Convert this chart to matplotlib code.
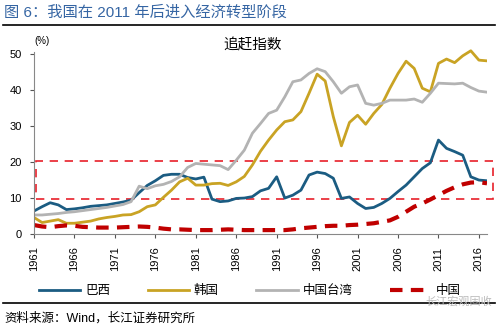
import matplotlib.pyplot as plt
from matplotlib.lines import Line2D
from matplotlib.patches import Rectangle

plt.rcParams['font.family'] = ['Liberation Sans', 'Noto Sans CJK SC']

years = list(range(1961, 2018))
tick_years = list(range(1961, 2017, 5))

brazil = [6.4, 7.6, 8.7, 8.1, 6.8, 7.0, 7.3, 7.7, 7.9, 8.1,
          8.5, 8.9, 9.4, 11.5, 13.5, 14.8, 16.3, 16.6, 16.6, 15.7,
          15.3, 15.8, 9.7, 9.0, 9.2, 9.9, 10.0, 10.4, 12.0, 12.7,
          15.9, 10.0, 10.8, 12.2, 16.4, 17.2, 16.8, 15.5, 9.9, 10.3,
          8.5, 7.1, 7.4, 8.5, 9.9, 11.8, 13.6, 15.9, 18.2, 19.8,
          26.1, 23.8, 22.9, 21.9, 15.9, 15.0, 14.8]
korea = [4.6, 3.2, 3.6, 4.0, 3.0, 3.0, 3.3, 3.6, 4.2, 4.6,
         4.9, 5.3, 5.4, 6.2, 7.6, 8.1, 10.2, 12.2, 14.5, 15.5,
         13.6, 13.6, 14.0, 14.1, 13.5, 14.5, 16.0, 19.2, 23.0, 26.1,
         28.9, 31.2, 31.7, 34.0, 39.1, 44.4, 42.5, 32.6, 24.5, 31.0,
         33.0, 30.5, 33.5, 36.0, 40.5, 44.6, 48.0, 46.0, 40.5, 39.5,
         47.4, 48.6, 47.6, 49.5, 50.9, 48.3, 48.1]
taiwan = [5.3, 5.3, 5.5, 5.7, 6.0, 6.2, 6.5, 6.8, 7.1, 7.4,
          7.8, 8.2, 9.0, 13.3, 12.6, 13.4, 13.8, 14.6, 15.9, 18.5,
          19.6, 19.4, 19.2, 19.0, 17.9, 20.5, 23.3, 28.0, 30.7, 33.5,
          34.4, 38.1, 42.3, 42.8, 44.6, 45.9, 45.1, 42.3, 39.1, 40.9,
          41.4, 36.3, 35.8, 36.3, 37.2, 37.2, 37.2, 37.5, 36.6, 39.1,
          41.9, 41.8, 41.7, 41.9, 40.7, 39.7, 39.4]
china = [2.5, 2.1, 1.9, 2.2, 2.4, 2.3, 2.0, 1.9, 1.8, 1.8,
         1.8, 1.9, 2.0, 2.1, 2.0, 1.8, 1.5, 1.3, 1.3, 1.2,
         1.1, 1.1, 1.1, 1.2, 1.3, 1.2, 1.1, 1.1, 1.1, 1.1,
         1.1, 1.1, 1.3, 1.6, 1.8, 2.0, 2.2, 2.3, 2.3, 2.5,
         2.6, 2.8, 3.0, 3.4, 3.8, 4.8, 6.2, 7.6, 8.5, 9.6,
         10.8, 12.0, 13.0, 13.8, 14.3, 14.4, 14.1]

fig = plt.figure(figsize=(5, 3.32), dpi=100)
ax = fig.add_axes([0.068, 0.295, 0.906, 0.564])

ax.plot(years, brazil, color='#1b5c82', lw=2.0, label='巴西', solid_joinstyle='round')
ax.plot(years, korea, color='#c9a324', lw=2.0, label='韩国', solid_joinstyle='round')
ax.plot(years, taiwan, color='#b3b3b3', lw=2.0, label='中国台湾', solid_joinstyle='round')
ax.plot(years, china, color='#c00000', lw=3.0, ls=(0, (3, 2)), label='中国')

# dashed box around the 10-20 band
ax.add_patch(Rectangle((1961.25, 9.7), 56.5, 10.6, fill=False, ec='#e8202a',
                       lw=1.2, ls=(0, (5, 4)), clip_on=False))

ax.set_xlim(1961, 2017)
ax.set_ylim(0, 52)
ax.set_xticks(tick_years)
ax.set_xticklabels([str(y) for y in tick_years], rotation=90, fontsize=8)
ax.set_yticks([0, 10, 20, 30, 40, 50])
ax.tick_params(axis='y', labelsize=8, length=3, width=0.8, color='#555555', pad=6)
ax.tick_params(axis='x', length=3, width=0.8, color='#555555', pad=6)
for s in ['top', 'right']:
    ax.spines[s].set_visible(False)
ax.spines['left'].set_bounds(0, 50.5)
ax.spines['left'].set_color('#888888')
ax.spines['bottom'].set_color('#888888')

ax.text(0.0, 1.005, '(%)', transform=ax.transAxes, fontsize=7, ha='left', va='bottom')
fig.text(0.505, 0.862, '追赶指数', fontsize=10.5, ha='center', va='center')

fig.text(0.008, 0.962, '图 6：我国在 2011 年后进入经济转型阶段', fontsize=11,
         color='#3565a3', ha='left', va='center')
fig.add_artist(Line2D([0.006, 0.99], [0.925, 0.925], color='black', lw=1.2))
fig.add_artist(Line2D([0.006, 0.99], [0.087, 0.087], color='black', lw=1.2))

fig.legend(loc='center', bbox_to_anchor=(0.5, 0.123), ncol=4, frameon=False,
           fontsize=9, handlelength=3.3, columnspacing=3.0, handletextpad=0.4)

fig.text(0.008, 0.042, '资料来源：Wind，长江证券研究所', fontsize=9, ha='left', va='center')
fig.text(0.985, 0.093, '长江宏观固收', fontsize=8, color='#bbbbbb', ha='right', va='center')

fig.savefig('out.png', dpi=100)
